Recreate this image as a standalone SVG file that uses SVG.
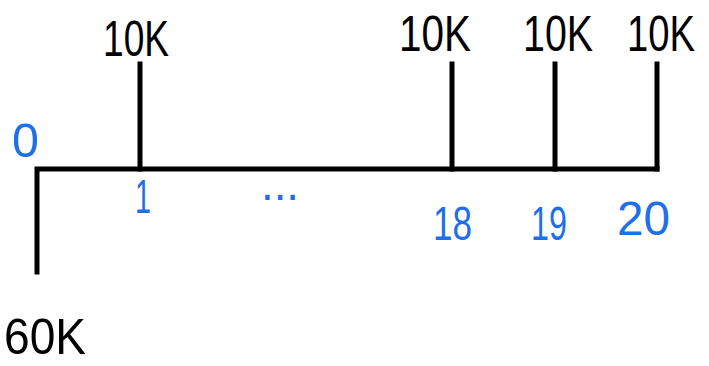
<svg xmlns="http://www.w3.org/2000/svg" width="709" height="366" viewBox="0 0 709 366">
<style>
.ln{stroke:#000;stroke-width:5;fill:none;stroke-linecap:square}
.amt{font-family:"Liberation Sans",Arial,sans-serif;font-size:50px;fill:#000}
.per{font-family:"Liberation Sans",Arial,sans-serif;font-size:48px;fill:#1f6fea}
</style>
<rect width="709" height="366" fill="#fff"/>
<g id="axis">
<path class="ln" d="M37 169 H657 M37 169 V272"/>
<path class="ln" d="M140 64 V169 M452 64 V169 M555 64 V169 M657 64 V169"/>
</g>
<g id="amounts">
<text class="amt" x="103" y="56" textLength="66" lengthAdjust="spacingAndGlyphs">10K</text>
<text class="amt" x="399" y="51" textLength="72" lengthAdjust="spacingAndGlyphs">10K</text>
<text class="amt" x="523" y="51" textLength="70" lengthAdjust="spacingAndGlyphs">10K</text>
<text class="amt" x="627" y="51" textLength="68" lengthAdjust="spacingAndGlyphs">10K</text>
<text class="amt" x="4" y="354" textLength="82" lengthAdjust="spacingAndGlyphs">60K</text>
</g>
<g id="periods">
<text class="per" x="12" y="157" textLength="27" lengthAdjust="spacingAndGlyphs">0</text>
<text class="per" x="135" y="213" textLength="16" lengthAdjust="spacingAndGlyphs">1</text>
<text class="per" x="433" y="240" textLength="39" lengthAdjust="spacingAndGlyphs">18</text>
<text class="per" x="531" y="240" textLength="36" lengthAdjust="spacingAndGlyphs">19</text>
<text class="per" x="617" y="235" textLength="53" lengthAdjust="spacingAndGlyphs">20</text>
<text class="per" x="261" y="200" textLength="38" lengthAdjust="spacingAndGlyphs">...</text>
</g>
</svg>
